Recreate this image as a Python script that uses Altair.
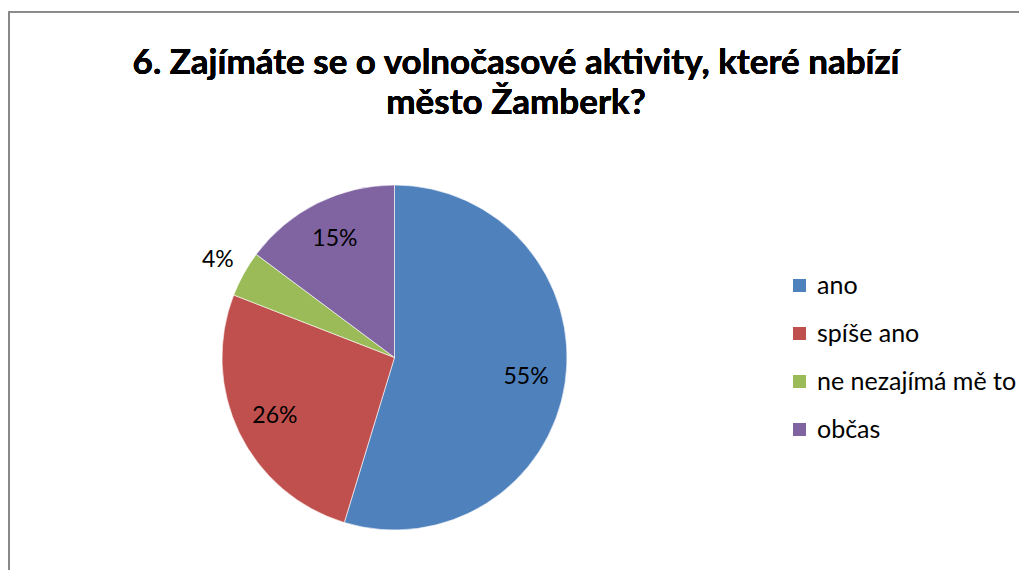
import altair as alt
import pandas as pd

categories = ["ano", "spíše ano", "ne nezajímá mě to", "občas"]
shares = [0.547, 0.262, 0.043, 0.148]
colors = ["#4F81BD", "#C0504D", "#9BBB59", "#8064A2"]
title_lines = ["6. Zajímáte se o volnočasové aktivity, které nabízí", "město Žamberk?"]

df = pd.DataFrame({"kategorie": categories, "podil": shares, "poradi": list(range(len(categories)))})

FONT = "Lato"
W, H = 773, 425
PAD_TOP, PAD_RIGHT = 137, 238

base = alt.Chart(df).encode(
    theta=alt.Theta("podil:Q", stack=True),
    order=alt.Order("poradi:Q", sort="ascending"),
)

pie = base.mark_arc(outerRadius=172.5, stroke="white", strokeWidth=0.6).encode(
    color=alt.Color(
        "kategorie:N",
        scale=alt.Scale(domain=categories, range=colors),
        legend=alt.Legend(
            title=None,
            orient="none",
            legendX=779,
            legendY=128,
            symbolType="square",
            symbolSize=169,
            symbolStrokeWidth=0,
            labelFont=FONT,
            labelFontSize=25,
            labelColor="black",
            labelOffset=5,
            labelLimit=0,
            rowPadding=22,
            padding=0,
        ),
    )
)

inside = base.mark_text(radius=133, font=FONT, fontSize=23, color="black").encode(
    text=alt.condition("datum.podil >= 0.05", alt.Text("podil:Q", format=".0%"), alt.value(""))
)
outside = base.mark_text(radius=202, font=FONT, fontSize=23, color="black").encode(
    text=alt.condition("datum.podil < 0.05", alt.Text("podil:Q", format=".0%"), alt.value(""))
)

title = alt.Chart(df).mark_text(
    font=FONT, fontSize=35, fontWeight="bold", color="black",
    align="center", baseline="middle", lineHeight=40,
).encode(
    x=alt.value(508), y=alt.value(-82), text=alt.value(title_lines)
)

frame_left = alt.Chart(df).mark_rule(color="#888888", strokeWidth=2).encode(
    x=alt.value(1), y=alt.value(-134), y2=alt.value(H + 20)
)
frame_top = alt.Chart(df).mark_rule(color="#888888", strokeWidth=1.5).encode(
    x=alt.value(0), x2=alt.value(W + PAD_RIGHT + 60), y=alt.value(-133.2)
)

chart = alt.layer(pie, inside, outside, title, frame_left, frame_top).properties(
    width=W,
    height=H,
    background="white",
    autosize=alt.AutoSizeParams(type="none"),
    padding={"left": 0, "top": PAD_TOP, "right": PAD_RIGHT, "bottom": 0},
).configure_view(strokeWidth=0)

chart.save("out.html", embed_options={"renderer": "svg", "actions": False})
